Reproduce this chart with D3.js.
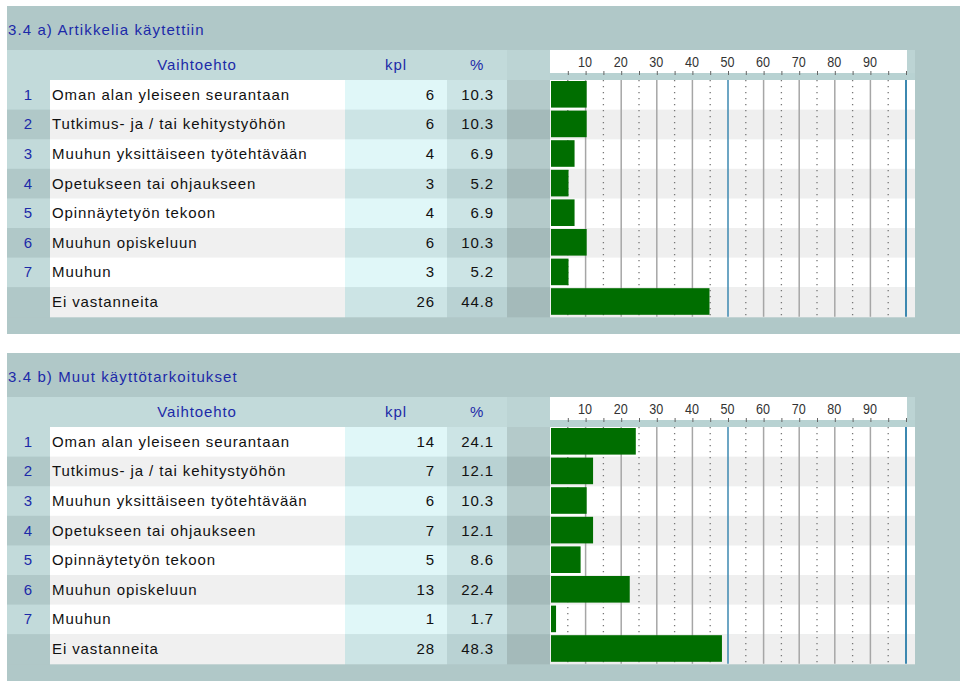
<!DOCTYPE html>
<html><head><meta charset="utf-8">
<script src="https://cdn.jsdelivr.net/npm/d3@7"></script>
<style>
body{margin:0;background:#fff;}
svg text{font-family:"Liberation Sans","Arimo",Arial,Helvetica,sans-serif;}
</style></head><body>
<svg id="c" width="960" height="686"></svg>
<script>
const categories = ["Oman alan yleiseen seurantaan","Tutkimus- ja / tai kehitystyöhön","Muuhun yksittäiseen työtehtävään","Opetukseen tai ohjaukseen","Opinnäytetyön tekoon","Muuhun opiskeluun","Muuhun","Ei vastanneita"];
const rowNumbers = ["1","2","3","4","5","6","7",""];
const titleA = "3.4 a) Artikkelia käytettiin";
const titleB = "3.4 b) Muut käyttötarkoitukset";
const kplA = [6,6,4,3,4,6,3,26];
const pctA = [10.3,10.3,6.9,5.2,6.9,10.3,5.2,44.8];
const kplB = [14,7,6,7,5,13,1,28];
const pctB = [24.1,12.1,10.3,12.1,8.6,22.4,1.7,48.3];
const tickLabels = [10,20,30,40,50,60,70,80,90];
const minorTicks = d3.range(5,101,5);
const headers = ["Vaihtoehto","kpl","%"];

const FONT = "Liberation Sans, Arial, sans-serif";
const svg = d3.select("#c");
const x = d3.scaleLinear().domain([0,100]).range([550,906]);

function txt(g){ return g.append("text").attr("font-family",FONT).attr("font-size",15).attr("letter-spacing",0.9); }

function panel(T, title, kpl, pct){
  const g = svg.append("g");
  const rowsTop = T+74, rowH = 29.6, n = categories.length, rowsBot = rowsTop + rowH*n;
  const blue = "#1c2aa8";
  g.append("rect").attr("x",7).attr("y",T).attr("width",953).attr("height",328).attr("fill","#b0c8c8");
  txt(g).attr("x",8).attr("y",T+28.5).attr("fill",blue).attr("letter-spacing",1.1).text(title);
  // header
  g.append("rect").attr("x",7).attr("y",T+44).attr("width",543).attr("height",30).attr("fill","#c2dada");
  g.append("rect").attr("x",507).attr("y",T+44).attr("width",43).attr("height",30).attr("fill","#bcd4d4");
  g.append("rect").attr("x",550).attr("y",T+44).attr("width",357).attr("height",23).attr("fill","#ffffff");
  g.append("rect").attr("x",907).attr("y",T+44).attr("width",8).attr("height",23).attr("fill","#bcd4d4");
  g.append("rect").attr("x",550).attr("y",T+67).attr("width",365).attr("height",7).attr("fill","#b8d2d2");
  const hx = [197,396,477];
  headers.forEach((h,i)=>txt(g).attr("x",hx[i]).attr("y",T+64).attr("text-anchor","middle").attr("fill",blue).text(h));
  // ruler axis
  const ax = d3.axisTop(x).tickValues(tickLabels).tickSize(0).tickPadding(0).tickFormat(d3.format("d"));
  const axg = g.append("g").attr("transform",`translate(-1,${T+61})`).call(ax);
  axg.select(".domain").remove();
  axg.selectAll("text").attr("font-family",FONT).attr("font-size",15).attr("fill","#333").attr("dy",0)
     .attr("textLength",14).attr("lengthAdjust","spacingAndGlyphs");
  const mt = d3.axisBottom(x).tickValues(minorTicks).tickSize(4).tickFormat("");
  const mtg = g.append("g").attr("transform",`translate(0,${T+65})`).call(mt);
  mtg.select(".domain").remove();
  mtg.selectAll("line").attr("stroke","#666").attr("stroke-width",1);
  // rows
  categories.forEach((c,i)=>{
    const y = rowsTop + i*rowH, odd = i%2===0;
    const cols = [[7,43, odd?"#c2dada":"#b0c8c8"],[50,295, odd?"#ffffff":"#f0f0f0"],[345,102, odd?"#e0f7f8":"#cce4e5"],
                  [447,60, odd?"#cce4e5":"#b9d2d3"],[507,43, odd?"#b4caca":"#a4baba"],[550,365, odd?"#ffffff":"#efefef"]];
    cols.forEach(cc=>g.append("rect").attr("x",cc[0]).attr("y",y).attr("width",cc[1]).attr("height",rowH+0.5).attr("fill",cc[2]));
  });
  // grid
  minorTicks.forEach(v=>{
    const isMajor = v%10===0;
    const col = (v===50||v===100) ? "#3c88b0" : (isMajor ? "#a6a6a6" : "#777");
    const ln = g.append("line").attr("x1",x(v)).attr("x2",x(v)).attr("y1",rowsTop).attr("y2",rowsBot)
      .attr("stroke",col).attr("stroke-width", isMajor?(v===100?2:1.5):1.3);
    if(!isMajor) ln.attr("stroke-dasharray","1.3,4.7");
  });
  // bars and texts
  categories.forEach((c,i)=>{
    const y = rowsTop + i*rowH, cy = y + rowH/2 + 5;
    g.append("rect").attr("x",x(0)+1).attr("y",y+1).attr("width",x(pct[i])-x(0)-1).attr("height",rowH-3).attr("fill","#006e00");
    txt(g).attr("x",28).attr("y",cy).attr("text-anchor","middle").attr("fill",blue).attr("letter-spacing",0).text(rowNumbers[i]);
    txt(g).attr("x",52).attr("y",cy).attr("fill","#111").text(c);
    txt(g).attr("x",435).attr("y",cy).attr("text-anchor","end").attr("fill","#111").text(kpl[i]);
    txt(g).attr("x",494).attr("y",cy).attr("text-anchor","end").attr("fill","#111").text(d3.format(".1f")(pct[i]));
  });
}
panel(6, titleA, kplA, pctA);
panel(353, titleB, kplB, pctB);
</script></body></html>
